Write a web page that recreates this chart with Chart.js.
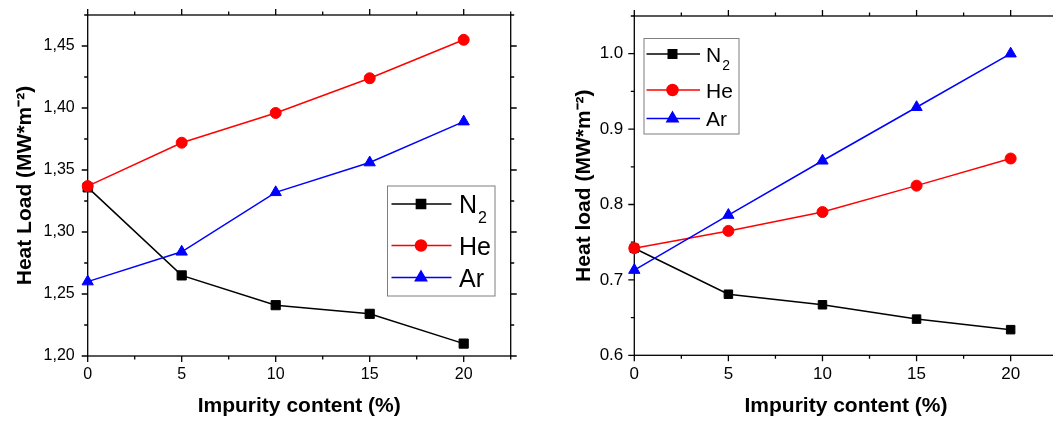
<!DOCTYPE html>
<html>
<head>
<meta charset="utf-8">
<title>Heat load vs impurity content</title>
<script src="https://cdn.jsdelivr.net/npm/chart.js@4.4.0/dist/chart.umd.min.js"></script>
<style>
  html, body { margin: 0; padding: 0; background: #fff; overflow: hidden; }
  body { width: 1053px; height: 421px; position: relative; }
  .panel { position: absolute; top: 0; height: 421px; }
  #panelLeft { left: 0; width: 530px; }
  #panelRight { left: 530px; width: 540px; }
</style>
</head>
<body>
<div class="panel" id="panelLeft"><canvas id="chartLeft" width="530" height="421"></canvas></div>
<div class="panel" id="panelRight"><canvas id="chartRight" width="540" height="421"></canvas></div>
<script>
// ============================================
// DATA
// ============================================

const IMPURITY = [0, 5, 10, 15, 20];
const X_TICKS = [0, 5, 10, 15, 20];

// left panel: Heat Load
const LEFT_N2 = [1.336, 1.265, 1.241, 1.234, 1.210];
const LEFT_HE = [1.337, 1.372, 1.396, 1.424, 1.455];
const LEFT_AR = [1.260, 1.284, 1.332, 1.356, 1.389];
const LEFT_Y_TICKS = [1.20, 1.25, 1.30, 1.35, 1.40, 1.45];

// right panel: Heat load
const RIGHT_N2 = [0.742, 0.681, 0.667, 0.648, 0.634];
const RIGHT_HE = [0.742, 0.765, 0.790, 0.825, 0.861];
const RIGHT_AR = [0.713, 0.786, 0.858, 0.929, 1.000];
const RIGHT_Y_TICKS = [0.6, 0.7, 0.8, 0.9, 1.0];

const FONT = "'Liberation Sans', Arial, Helvetica, sans-serif";

// ============================================
// PLUGINS
// ============================================

// major ticks plus one minor tick halfway between them
function tickList(scale) {
  const majors = scale.ticks.map((t) => t.value);
  const step = majors[1] - majors[0];
  const list = majors.map((v) => [v, true]);
  const eps = step * 1e-6;
  if (majors[0] - step / 2 >= scale.min - eps) list.push([majors[0] - step / 2, false]);
  majors.forEach((v) => {
    if (v + step / 2 <= scale.max + eps) list.push([v + step / 2, false]);
  });
  return list;
}

// box round the plot area with outward ticks on all four sides
const framePlugin = {
  id: 'frame',
  beforeDatasetsDraw(chart) {
    const { ctx, chartArea: a, scales } = chart;
    const major = 6;
    const minor = 3.5;
    ctx.save();
    ctx.strokeStyle = '#000';
    ctx.lineWidth = 1.3;
    ctx.strokeRect(a.left, a.top, a.right - a.left, a.bottom - a.top);
    ctx.beginPath();
    tickList(scales.x).forEach(([v, isMajor]) => {
      const px = scales.x.getPixelForValue(v);
      const len = isMajor ? major : minor;
      ctx.moveTo(px, a.bottom);
      ctx.lineTo(px, a.bottom + len);
      ctx.moveTo(px, a.top);
      ctx.lineTo(px, a.top - len);
    });
    tickList(scales.y).forEach(([v, isMajor]) => {
      const py = scales.y.getPixelForValue(v);
      const len = isMajor ? major : minor;
      ctx.moveTo(a.left, py);
      ctx.lineTo(a.left - len, py);
      ctx.moveTo(a.right, py);
      ctx.lineTo(a.right + len, py);
    });
    ctx.stroke();
    ctx.restore();
  },
};

function drawMarker(ctx, style, radius, x, y) {
  if (Chart.helpers && Chart.helpers.drawPoint) {
    Chart.helpers.drawPoint(ctx, { pointStyle: style, radius: radius, rotation: 0, borderWidth: 1 }, x, y);
    return;
  }
  ctx.beginPath();
  if (style === 'rect') {
    const s = radius * Math.SQRT1_2;
    ctx.rect(x - s, y - s, 2 * s, 2 * s);
  } else if (style === 'triangle') {
    ctx.moveTo(x, y - radius);
    ctx.lineTo(x + radius * 0.866, y + radius / 2);
    ctx.lineTo(x - radius * 0.866, y + radius / 2);
    ctx.closePath();
  } else {
    ctx.arc(x, y, radius, 0, Math.PI * 2);
  }
  ctx.fill();
  ctx.stroke();
}

// legend box inside the plot, Origin style
const boxLegendPlugin = {
  id: 'boxLegend',
  afterDraw(chart, args, opts) {
    const ctx = chart.ctx;
    ctx.save();
    ctx.fillStyle = '#fff';
    ctx.fillRect(opts.x, opts.y, opts.w, opts.h);
    ctx.strokeStyle = '#7f7f7f';
    ctx.lineWidth = 1;
    ctx.strokeRect(opts.x, opts.y, opts.w, opts.h);

    chart.data.datasets.forEach((ds, i) => {
      const rowY = opts.rows[i];
      ctx.strokeStyle = ds.borderColor;
      ctx.fillStyle = ds.backgroundColor;
      ctx.lineWidth = ds.borderWidth;
      ctx.beginPath();
      ctx.moveTo(opts.lineFrom, rowY);
      ctx.lineTo(opts.lineTo, rowY);
      ctx.stroke();
      drawMarker(ctx, ds.pointStyle, ds.pointRadius, opts.markerX, rowY);

      const [main, sub] = opts.labels[i];
      const baseline = rowY + opts.fontSize * 0.36;
      ctx.fillStyle = '#000';
      ctx.textBaseline = 'alphabetic';
      ctx.textAlign = 'left';
      ctx.font = opts.fontSize + 'px ' + FONT;
      ctx.fillText(main, opts.textX, baseline);
      if (sub) {
        const w = ctx.measureText(main).width;
        ctx.font = opts.subSize + 'px ' + FONT;
        ctx.fillText(sub, opts.textX + w + 1, baseline + opts.fontSize * 0.38);
      }
    });
    ctx.restore();
  },
};

// ============================================
// CHARTS
// ============================================

function buildChart(canvasId, series, cfg) {
  return new Chart(document.getElementById(canvasId), {
    type: 'line',
    data: {
      datasets: series.map((s) => ({
        label: s.label,
        data: IMPURITY.map((x, i) => ({ x: x, y: s.values[i] })),
        borderColor: s.color,
        backgroundColor: s.color,
        pointBackgroundColor: s.color,
        pointBorderColor: s.color,
        pointStyle: s.style,
        pointRadius: cfg.radius[s.style],
        pointBorderWidth: 1,
        borderWidth: 1.5,
        tension: 0,
        clip: false,
        order: s.order,
      })),
    },
    options: {
      responsive: false,
      animation: false,
      layout: { padding: cfg.padding },
      plugins: {
        legend: { display: false },
        tooltip: { enabled: false },
        boxLegend: cfg.legend,
      },
      scales: {
        x: {
          type: 'linear',
          min: 0,
          max: 22.5,
          afterBuildTicks: (s) => {
            s.ticks = X_TICKS.map((v) => ({ value: v }));
          },
          afterFit: (s) => {
            s.height = cfg.xAxisHeight;
            s.paddingLeft = 0;
            s.paddingRight = 0;
          },
          grid: { display: false, drawTicks: false },
          border: { display: false },
          ticks: {
            color: '#000',
            padding: 9,
            maxRotation: 0,
            autoSkip: false,
            font: { family: FONT, size: cfg.tickSize },
          },
          title: {
            display: true,
            text: 'Impurity content (%)',
            color: '#000',
            padding: { top: 0, bottom: 2 },
            font: { family: FONT, size: 21, weight: 'bold' },
          },
        },
        y: {
          type: 'linear',
          min: cfg.yMin,
          max: cfg.yMax,
          afterBuildTicks: (s) => {
            s.ticks = cfg.yTicks.map((v) => ({ value: v }));
          },
          afterFit: (s) => {
            s.width = cfg.yAxisWidth;
            s.paddingTop = 0;
            s.paddingBottom = 0;
          },
          grid: { display: false, drawTicks: false },
          border: { display: false },
          ticks: {
            color: '#000',
            padding: cfg.yTickPad,
            autoSkip: false,
            callback: cfg.yFormat,
            font: { family: FONT, size: cfg.tickSize },
          },
          title: {
            display: true,
            text: cfg.yTitle,
            color: '#000',
            padding: { top: cfg.yTitlePad, bottom: 0 },
            font: { family: FONT, size: 21, weight: 'bold' },
          },
        },
      },
    },
    plugins: [framePlugin, boxLegendPlugin],
  });
}

function seriesFor(n2, he, ar) {
  return [
    { label: 'N₂', values: n2, color: '#000000', style: 'rect', order: 3 },
    { label: 'He', values: he, color: '#ff0000', style: 'circle', order: 2 },
    { label: 'Ar', values: ar, color: '#0000ff', style: 'triangle', order: 1 },
  ];
}

window.addEventListener('load', function () {
  buildChart('chartLeft', seriesFor(LEFT_N2, LEFT_HE, LEFT_AR), {
    padding: { left: 0, top: 15, right: 19.3, bottom: 0 },
    yAxisWidth: 87.7,
    xAxisHeight: 65,
    yMin: 1.2,
    yMax: 1.475,
    yTicks: LEFT_Y_TICKS,
    yFormat: (v) => v.toFixed(2).replace('.', ','),
    yTitle: 'Heat Load (MW*m⁻²)',
    yTitlePad: 13,
    yTickPad: 13,
    tickSize: 16,
    radius: { rect: 6.5, circle: 5.5, triangle: 6.5 },
    legend: {
      x: 387.5, y: 186, w: 107.5, h: 110,
      rows: [204, 245.5, 277.5],
      lineFrom: 391.5, lineTo: 451.5, markerX: 421, textX: 459,
      fontSize: 25, subSize: 16,
      labels: [['N', '2'], ['He'], ['Ar']],
    },
  });

  buildChart('chartRight', seriesFor(RIGHT_N2, RIGHT_HE, RIGHT_AR), {
    padding: { left: 0, top: 16, right: 12.3, bottom: 0 },
    yAxisWidth: 104.3,
    xAxisHeight: 65.7,
    yMin: 0.6,
    yMax: 1.05,
    yTicks: RIGHT_Y_TICKS,
    yFormat: (v) => v.toFixed(1),
    yTitle: 'Heat load (MW*m⁻²)',
    yTitlePad: 42,
    yTickPad: 11,
    tickSize: 17,
    radius: { rect: 6, circle: 5.5, triangle: 6.5 },
    legend: {
      x: 114, y: 38.5, w: 95, h: 95.5,
      rows: [54, 90, 118.5],
      lineFrom: 116.5, lineTo: 170, markerX: 142.5, textX: 176,
      fontSize: 21, subSize: 14,
      labels: [['N', '2'], ['He'], ['Ar']],
    },
  });
});
</script>
</body>
</html>
